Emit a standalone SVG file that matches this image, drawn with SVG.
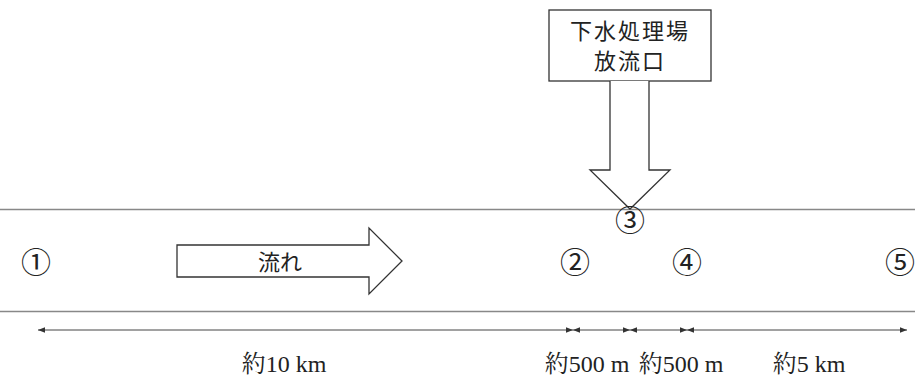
<svg xmlns="http://www.w3.org/2000/svg" width="915" height="378" viewBox="0 0 915 378">
<defs>
<style>
.shape{fill:#fff;stroke:#333;stroke-width:1.3}
.river{stroke:#888;stroke-width:1.5;fill:none}
.dim{stroke:#444;stroke-width:1;fill:none}
.jp{font-family:"Noto Sans CJK JP","Noto Sans",sans-serif;font-size:22px;fill:#222}
.num{font-family:"Noto Sans CJK JP","DejaVu Sans",sans-serif;font-size:30px;fill:#222;text-anchor:middle}
.lbl{font-family:"Liberation Serif","Noto Serif CJK JP","Noto Sans CJK JP",serif;font-size:24px;fill:#222;text-anchor:middle}
</style>
<marker id="ah" viewBox="0 0 10 10" refX="10" refY="5" markerWidth="7" markerHeight="7" orient="auto-start-reverse" markerUnits="userSpaceOnUse">
<path d="M0,1 L10,5 L0,9 Z" fill="#333"/>
</marker>
</defs>
<rect width="915" height="378" fill="#fff"/>
<g id="river">
<line class="river" x1="0" y1="209.5" x2="915" y2="209.5"/>
<line class="river" x1="0" y1="311.5" x2="915" y2="311.5"/>
</g>
<g id="plant">
<rect class="shape" x="549" y="10" width="162" height="71"/>
<text class="jp" x="630" y="39" text-anchor="middle" letter-spacing="2">下水処理場</text>
<text class="jp" x="630" y="69" text-anchor="middle" letter-spacing="2">放流口</text>
</g>
<g id="outflow">
<path class="shape" d="M610,81 L610,170 L590,170 L630,209 L670,170 L649,170 L649,81"/>
</g>
<g id="flow">
<path class="shape" d="M177,245 L369,245 L369,228 L402,261 L369,294 L369,277 L177,277 Z"/>
<text class="jp" x="280" y="270" text-anchor="middle">流れ</text>
</g>
<g id="p1"><text class="num" x="36" y="273">①</text></g>
<g id="p2"><text class="num" x="575" y="273">②</text></g>
<g id="p3"><text class="num" x="630" y="231">③</text></g>
<g id="p4"><text class="num" x="687" y="273">④</text></g>
<g id="p5"><text class="num" x="900" y="273">⑤</text></g>
<g id="connectors">
<line class="dim" x1="38" y1="330" x2="573" y2="330" marker-start="url(#ah)" marker-end="url(#ah)"/>
<line class="dim" x1="573" y1="330" x2="630" y2="330" marker-start="url(#ah)" marker-end="url(#ah)"/>
<line class="dim" x1="630" y1="330" x2="687" y2="330" marker-start="url(#ah)" marker-end="url(#ah)"/>
<line class="dim" x1="687" y1="330" x2="907" y2="330" marker-start="url(#ah)" marker-end="url(#ah)"/>
</g>
<g id="labels">
<text class="lbl" x="284" y="372">約10 km</text>
<text class="lbl" x="587" y="372">約500 m</text>
<text class="lbl" x="681" y="372">約500 m</text>
<text class="lbl" x="809" y="372">約5 km</text>
</g>
</svg>
